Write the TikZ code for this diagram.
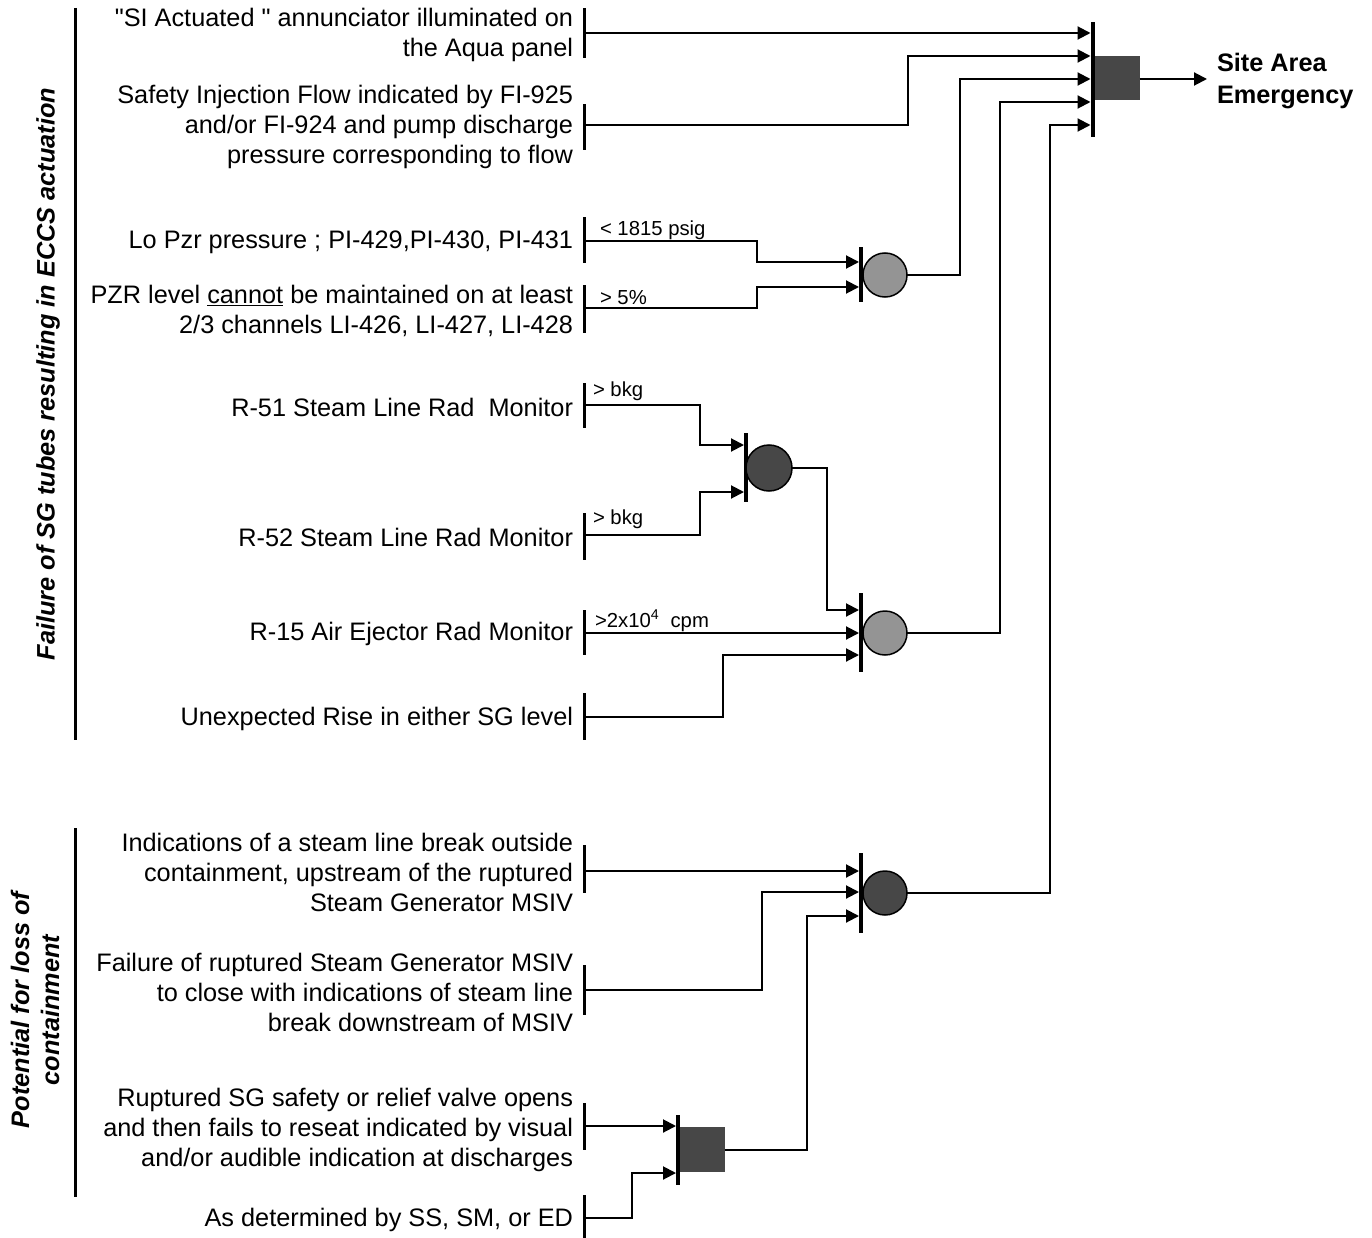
\documentclass[tikz,border=0pt]{standalone}
\usepackage{fontspec}
\setmainfont{Liberation Sans}[Ligatures=TeXOff]
\usetikzlibrary{arrows.meta}
\begin{document}
\begin{tikzpicture}[x=1pt,y=-1pt,
  every node/.style={inner sep=0pt, outer sep=0pt},
  txt/.style={anchor=east, align=right, font=\fontsize{25.3}{30}\selectfont},
  lbl/.style={anchor=base west, font=\fontsize{20.3}{24}\selectfont},
  ibar/.style={fill=black, minimum width=3pt, minimum height=#1},
  gbar/.style={fill=black, minimum width=4pt, minimum height=#1},
  sidebar/.style={line width=3pt},
  conn/.style={line width=2pt},
  arr/.style={conn, -{Triangle[length=13pt,width=13pt]}},
  darkfill/.style={fill=black!72},
  lightfill/.style={fill=black!42},
  gcirc/.style={circle, draw=black, line width=1.5pt, minimum size=44pt},
  gsq/.style={rectangle, minimum width=45pt, minimum height=45pt},
  side/.style={rotate=90, align=center, font=\fontsize{25.3}{30}\selectfont\bfseries\itshape}
]
\useasboundingbox (0,0) rectangle (1372,1238);

% side bars and titles
\draw[sidebar] (75,8) -- (75,740);
\draw[sidebar] (75,828) -- (75,1197);
\node[side] (t1) at (48,374) {Failure of SG tubes resulting in ECCS actuation};
\node[side] (t2) at (35,1010) {Potential for loss of\\containment};

% input texts
\node[txt] (x1) at (573,35) {"SI Actuated " annunciator illuminated on\\the Aqua panel};
\node[txt] (x2) at (573,127) {Safety Injection Flow indicated by FI-925\\and/or FI-924 and pump discharge\\pressure corresponding to flow};
\node[txt] (x3) at (573,242) {Lo Pzr pressure ; PI-429,PI-430, PI-431};
\node[txt] (x4) at (573,311) {PZR level \underline{cannot} be maintained on at least\\2/3 channels LI-426, LI-427, LI-428};
\node[txt] (x5) at (573,407) {R-51 Steam Line Rad\ \ Monitor};
\node[txt] (x6) at (573,537) {R-52 Steam Line Rad Monitor};
\node[txt] (x7) at (573,634) {R-15 Air Ejector Rad Monitor};
\node[txt] (x8) at (573,719) {Unexpected Rise in either SG level};
\node[txt] (x9) at (573,872) {Indications of a steam line break outside\\containment, upstream of the ruptured\\Steam Generator MSIV};
\node[txt] (x10) at (573,992) {Failure of ruptured Steam Generator MSIV\\to close with indications of steam line\\break downstream of MSIV};
\node[txt] (x11) at (573,1130) {Ruptured SG safety or relief valve opens\\and then fails to reseat indicated by visual\\and/or audible indication at discharges};
\node[txt] (x12) at (573,1220) {As determined by SS, SM, or ED};

% input bars
\node[ibar=50pt] (b1) at (584.5,33) {};
\node[ibar=46pt] (b2) at (584.5,127) {};
\node[ibar=46pt] (b3) at (584.5,240) {};
\node[ibar=47pt] (b4) at (584.5,309) {};
\node[ibar=45pt] (b5) at (584.5,405) {};
\node[ibar=47pt] (b6) at (584.5,536) {};
\node[ibar=45pt] (b7) at (584.5,632) {};
\node[ibar=47pt] (b8) at (584.5,716) {};
\node[ibar=48pt] (b9) at (584.5,869) {};
\node[ibar=50pt] (b10) at (584.5,990) {};
\node[ibar=47pt] (b11) at (584.5,1126) {};
\node[ibar=43pt] (b12) at (584.5,1216) {};

% labels
\node[lbl] (l3) at (600,236) {< 1815 psig};
\node[lbl] (l4) at (600,305) {> 5\%};
\node[lbl] (l5) at (593,396) {> bkg};
\node[lbl] (l6) at (593,524) {> bkg};
\node[lbl] (l7) at (595,627) {>2x10\textsuperscript{4}\ \ cpm};

% gates
\node[gbar=115pt] (gb0) at (1092.5,79.5) {};
\node[gsq, darkfill, minimum width=45pt, minimum height=44pt] (s0) at (1117,78) {};
\node[gbar=55pt] (gb1) at (861,274.5) {};
\node[gcirc, lightfill] (c1) at (885,275) {};
\node[gbar=69pt] (gb2) at (746,467.5) {};
\node[gcirc, darkfill, minimum size=46pt] (c2) at (769,468) {};
\node[gbar=79pt] (gb3) at (861,632.5) {};
\node[gcirc, lightfill] (c3) at (885,633) {};
\node[gbar=80pt] (gb4) at (861,893) {};
\node[gcirc, darkfill] (c4) at (885,893) {};
\node[gbar=70pt] (gb5) at (678,1150) {};
\node[gsq, darkfill] (s5) at (702,1149.5) {};

% output
\node[anchor=west, align=left, font=\fontsize{25.3}{32}\selectfont\bfseries] (out) at (1217,81) {Site Area\\Emergency};
\coordinate (otip) at (1207,79);
\draw[arr] (s0.east |- 0,79) -- (otip);

% connectors to main gate
\draw[arr] (b1) -- (gb0.west |- 0,33);
\draw[arr] (b2.center |- 0,125) -- (908,125) |- (gb0.west |- 0,56);
\draw[arr] (c1.east) -- (960,275) |- (gb0.west |- 0,79);
\draw[arr] (c3.east) -- (1000,633) |- (gb0.west |- 0,102);
\draw[arr] (c4.east) -- (1050,893) |- (gb0.west |- 0,125);

% gate 1
\draw[arr] (b3.center |- 0,241) -- (757,241) |- (gb1.west |- 0,262);
\draw[arr] (b4.center |- 0,308) -- (757,308) |- (gb1.west |- 0,287);
% gate 2
\draw[arr] (b5) -- (700,405) |- (gb2.west |- 0,445);
\draw[arr] (b6.center |- 0,535) -- (700,535) |- (gb2.west |- 0,492);
% gate 3
\draw[arr] (c2.east) -- (827,468) |- (gb3.west |- 0,610);
\draw[arr] (b7.center |- 0,633) -- (gb3.west |- 0,633);
\draw[arr] (b8.center |- 0,717) -- (723,717) |- (gb3.west |- 0,655);
% gate 4
\draw[arr] (b9.center |- 0,871) -- (gb4.west |- 0,871);
\draw[arr] (b10) -- (762,990) |- (gb4.west |- 0,892);
\draw[arr] (s5.east |- 0,1150) -- (807,1150) |- (gb4.west |- 0,916);
% gate 5
\draw[arr] (b11) -- (gb5.west |- 0,1126);
\draw[arr] (b12.center |- 0,1218) -- (632,1218) |- (gb5.west |- 0,1173);
\end{tikzpicture}
\end{document}
